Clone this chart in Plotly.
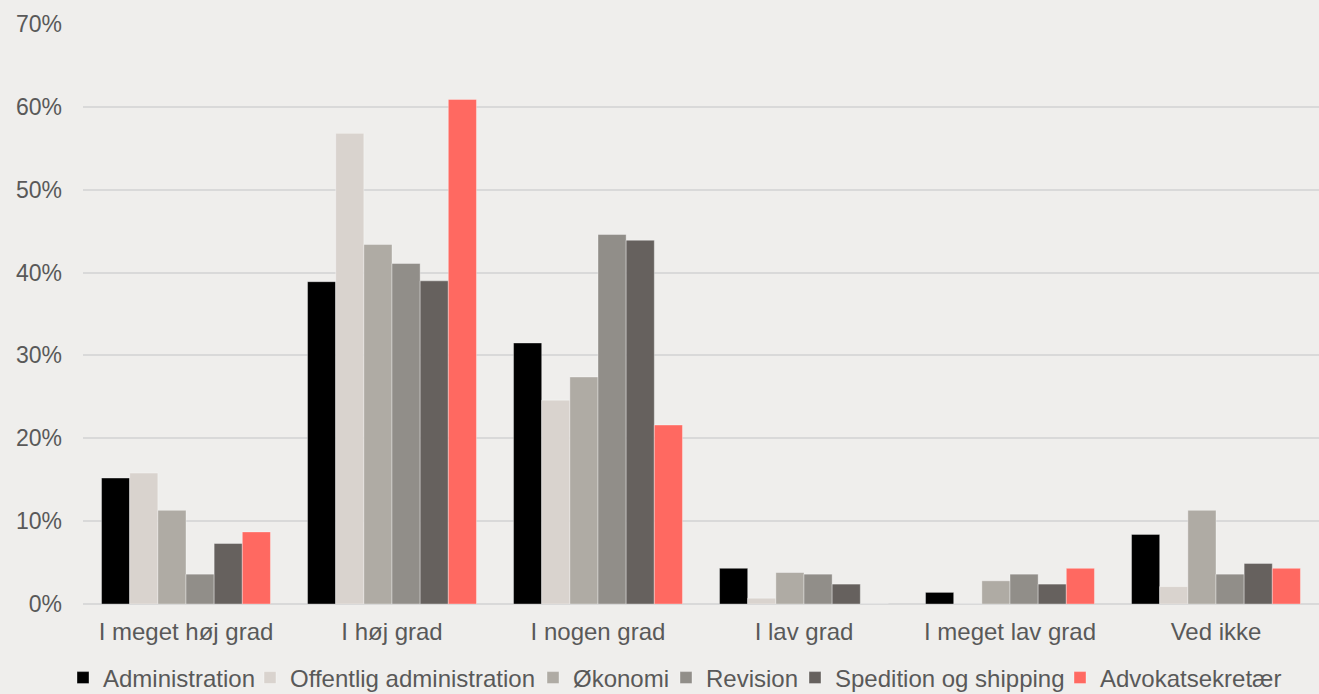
import plotly.graph_objects as go

categories = ["I meget høj grad", "I høj grad", "I nogen grad", "I lav grad",
              "I meget lav grad", "Ved ikke"]

administration = [15.2, 38.9, 31.5, 4.3, 1.4, 8.4]
offentlig_administration = [15.8, 56.8, 24.6, 0.7, 0.0, 2.1]
oekonomi = [11.3, 43.4, 27.4, 3.8, 2.8, 11.3]
revision = [3.6, 41.1, 44.6, 3.6, 3.6, 3.6]
spedition = [7.3, 39.0, 43.9, 2.4, 2.4, 4.9]
advokatsekretaer = [8.7, 60.9, 21.6, 0.0, 4.3, 4.3]

series = [
    ("Administration", administration, "#000000"),
    ("Offentlig administration", offentlig_administration, "#D9D3CE"),
    ("Økonomi", oekonomi, "#AFABA4"),
    ("Revision", revision, "#918E89"),
    ("Spedition og shipping", spedition, "#66615E"),
    ("Advokatsekretær", advokatsekretaer, "#FF6961"),
]

# left edge (px) of each legend entry along the bottom row
legend_left_px = [63, 250, 533, 666, 795, 1060]

FONT = "Liberation Sans, Arial, sans-serif"
TEXT = "#595959"
BG = "#EFEEEC"
W, H = 1319, 694
LEGEND_Y_PX = 678

fig = go.Figure()
legend_layouts = {}
for i, (name, values, color) in enumerate(series):
    key = "legend" if i == 0 else f"legend{i + 1}"
    fig.add_trace(go.Bar(
        x=categories,
        y=[v / 100 for v in values],
        name=name,
        legend=key,
        marker=dict(color=color, line=dict(color="rgba(255,255,255,0.35)", width=1)),
    ))
    legend_layouts[key] = dict(
        orientation="h",
        x=legend_left_px[i] / W,
        xref="container",
        xanchor="left",
        y=1 - LEGEND_Y_PX / H,
        yref="container",
        yanchor="middle",
        font=dict(family=FONT, size=24, color=TEXT),
        bgcolor="rgba(0,0,0,0)",
        itemwidth=30,
    )

fig.update_layout(
    width=W,
    height=H,
    barmode="group",
    bargap=0.18,
    bargroupgap=0,
    paper_bgcolor=BG,
    plot_bgcolor=BG,
    margin=dict(l=83, r=0, t=24, b=90, autoexpand=False),
    font=dict(family=FONT, size=24, color=TEXT),
    showlegend=True,
    xaxis=dict(
        showgrid=False,
        showline=False,
        ticks="",
        ticklabelstandoff=11,
        tickfont=dict(family=FONT, size=24, color=TEXT),
    ),
    yaxis=dict(
        range=[0, 0.7],
        dtick=0.1,
        tickformat=".0%",
        showgrid=True,
        gridcolor="#D9D9D9",
        gridwidth=2,
        zeroline=True,
        zerolinecolor="#D9D9D9",
        zerolinewidth=2,
        showline=False,
        ticks="",
        ticklabelstandoff=20,
        tickfont=dict(family=FONT, size=23, color=TEXT),
    ),
    **legend_layouts,
)

fig.write_html("out.html")
